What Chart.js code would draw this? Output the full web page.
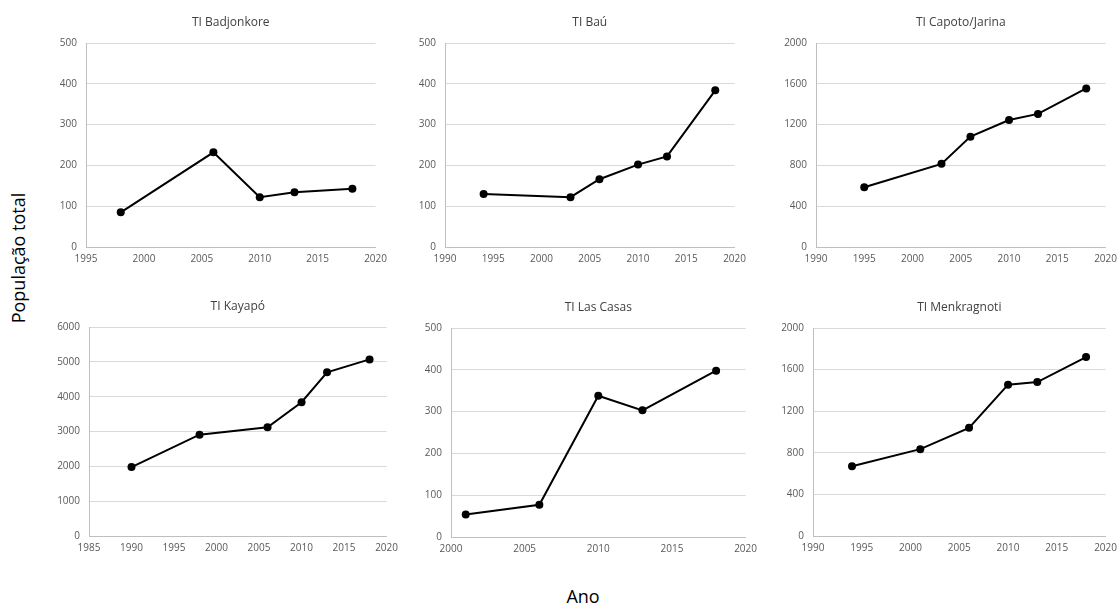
<!DOCTYPE html>
<html>
<head>
<meta charset="utf-8">
<script src="https://cdn.jsdelivr.net/npm/chart.js@4/dist/chart.umd.min.js"></script>
<style>
  html, body { margin: 0; padding: 0; background: #fff; }
  #page { position: relative; width: 1119px; height: 608px; overflow: hidden; }
  .panel { position: absolute; }
  .axis-title { position: absolute; font-family: "Open Sans", sans-serif; font-size: 18px; color: #000; white-space: nowrap; }
  #ytitle { left: 18px; top: 258px; transform: translate(-50%, -50%) rotate(-90deg); }
  #xtitle { left: 583px; top: 596px; transform: translate(-50%, -50%); }
</style>
</head>
<body>
<div id="page">
  <div class="axis-title" id="ytitle">População total</div>
  <div class="axis-title" id="xtitle">Ano</div>
</div>
<script>
// data
const titles = ["TI Badjonkore", "TI Baú", "TI Capoto/Jarina", "TI Kayapó", "TI Las Casas", "TI Menkragnoti"];

const badjonkoreYears = [1998, 2006, 2010, 2013, 2018];
const badjonkorePop = [85, 232, 122, 134, 143];

const bauYears = [1994, 2003, 2006, 2010, 2013, 2018];
const bauPop = [130, 122, 166, 202, 222, 384];

const capotoYears = [1995, 2003, 2006, 2010, 2013, 2018];
const capotoPop = [585, 815, 1082, 1245, 1305, 1555];

const kayapoYears = [1990, 1998, 2006, 2010, 2013, 2018];
const kayapoPop = [1980, 2910, 3120, 3840, 4700, 5070];

const lasCasasYears = [2001, 2006, 2010, 2013, 2018];
const lasCasasPop = [54, 77, 338, 303, 398];

const menkragnotiYears = [1994, 2001, 2006, 2010, 2013, 2018];
const menkragnotiPop = [670, 835, 1040, 1455, 1480, 1720];

// axis ranges (tick labels)
const xMins = [1995, 1990, 1990, 1985, 2000, 1990];
const xMaxs = [2020, 2020, 2020, 2020, 2020, 2020];
const yMaxs = [500, 500, 2000, 6000, 500, 2000];
const ySteps = [100, 100, 400, 1000, 100, 400];

const seriesYears = [badjonkoreYears, bauYears, capotoYears, kayapoYears, lasCasasYears, menkragnotiYears];
const seriesPop = [badjonkorePop, bauPop, capotoPop, kayapoPop, lasCasasPop, menkragnotiPop];

// plot-area boxes [left, top, right, bottom]
const plotBoxes = [
  [86, 43, 378, 247],
  [445, 43, 737, 247],
  [816, 43, 1108, 247],
  [89, 327, 389, 536],
  [451, 328, 748, 537],
  [813, 328, 1108, 536],
];

const Y_AXIS_W = 45;
const X_AXIS_H = 22;
const RIGHT_PAD = 15;
const TITLE_TOP = 2, TITLE_BOTTOM = 13, TITLE_LINE = 15;
const TITLE_BLOCK = TITLE_TOP + TITLE_LINE + TITLE_BOTTOM;

const tickFont = { family: "'Open Sans', sans-serif", size: 10 };
const page = document.getElementById("page");

titles.forEach((title, i) => {
  const [l, t, r, b] = plotBoxes[i];
  const box = document.createElement("div");
  box.className = "panel";
  box.style.left = (l - Y_AXIS_W) + "px";
  box.style.top = (t - TITLE_BLOCK) + "px";
  box.style.width = (r - l + Y_AXIS_W + RIGHT_PAD) + "px";
  box.style.height = (TITLE_BLOCK + (b - t) + X_AXIS_H) + "px";
  const canvas = document.createElement("canvas");
  box.appendChild(canvas);
  page.appendChild(box);

  const points = seriesYears[i].map((year, k) => ({ x: year, y: seriesPop[i][k] }));

  new Chart(canvas, {
    type: "line",
    data: {
      datasets: [
        {
          data: points,
          borderColor: "#000",
          backgroundColor: "#000",
          borderWidth: 2,
          tension: 0,
          pointRadius: 4,
          pointBackgroundColor: "#000",
          pointBorderWidth: 0,
        },
      ],
    },
    options: {
      responsive: true,
      maintainAspectRatio: false,
      animation: false,
      layout: { padding: { right: RIGHT_PAD, left: 0, top: 0, bottom: 0 } },
      plugins: {
        legend: { display: false },
        tooltip: { enabled: false },
        title: {
          display: true,
          text: title,
          fullSize: false,
          color: "#404040",
          font: { family: "'Open Sans', sans-serif", size: 12, weight: "normal", lineHeight: TITLE_LINE / 12 },
          padding: { top: TITLE_TOP, bottom: TITLE_BOTTOM },
        },
      },
      scales: {
        x: {
          type: "linear",
          min: xMins[i],
          max: xMaxs[i],
          grid: { display: false, drawTicks: false },
          border: { display: true, color: "#bfbfbf", width: 1 },
          ticks: {
            stepSize: 5,
            padding: 6,
            color: "#595959",
            font: tickFont,
            maxRotation: 0,
            callback: (v) => String(v),
          },
          afterFit: (scale) => { scale.height = X_AXIS_H; },
        },
        y: {
          min: 0,
          max: yMaxs[i],
          grid: { color: "#d9d9d9", lineWidth: 1, drawTicks: false },
          border: { display: true, color: "#bfbfbf", width: 1 },
          ticks: {
            stepSize: ySteps[i],
            padding: 9,
            color: "#595959",
            font: tickFont,
            callback: (v) => String(v),
          },
          afterFit: (scale) => { scale.width = Y_AXIS_W; },
        },
      },
    },
  });
});
</script>
</body>
</html>
